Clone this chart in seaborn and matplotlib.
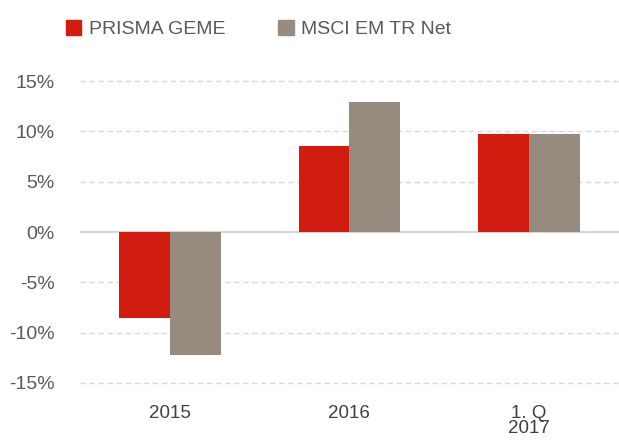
import numpy as np
import pandas as pd
import matplotlib
matplotlib.use("Agg")
import matplotlib.pyplot as plt
import seaborn as sns

# ---------------------------------------------------
# DATA
# ---------------------------------------------------

categories = ["2015", "2016", "1. Q\n2017"]
series_names = ["PRISMA GEME", "MSCI EM TR Net"]
prisma_values = [-8.5, 8.5, 9.7]
msci_values = [-12.2, 12.9, 9.7]
y_ticks = [-15, -10, -5, 0, 5, 10, 15]

colors = ["#d21c10", "#978b7f"]

df = pd.DataFrame({
    "Period": categories * 2,
    "Series": [series_names[0]] * 3 + [series_names[1]] * 3,
    "Return": prisma_values + msci_values,
})

# ---------------------------------------------------
# PLOT
# ---------------------------------------------------

sns.set_theme(style="white")
plt.rcParams["font.family"] = ["Liberation Sans", "DejaVu Sans"]

fig = plt.figure(figsize=(6.19, 4.42), dpi=100)
ax = fig.add_axes([0.129, 0.1335, 0.871, 0.6832])

sns.barplot(
    data=df,
    x="Period",
    y="Return",
    hue="Series",
    palette=colors,
    width=0.566,
    saturation=1,
    linewidth=0,
    ax=ax,
    legend=False,
)

ax.set_xlim(-0.5, 2.5)
ax.set_ylim(-15, 15)
ax.set_yticks(y_ticks)
ax.set_yticklabels([f"{t}%" for t in y_ticks])

for t in y_ticks:
    if t == 0:
        ax.axhline(0, color="#d9d9d9", lw=1.6, zorder=0.5)
    else:
        ax.axhline(t, color="#d9d9d9", lw=1.0, ls=(0, (4, 2.5)),
                   zorder=0.5, clip_on=False)

for s in ax.spines.values():
    s.set_visible(False)

ax.tick_params(axis="y", length=0, pad=18, labelsize=14, labelcolor="#595959")
ax.tick_params(axis="x", length=0, pad=16, labelsize=13.5, labelcolor="#404040")
for lbl in ax.get_xticklabels():
    lbl.set_linespacing(0.85)
ax.set_xlabel("")
ax.set_ylabel("")

# legend
handles = [plt.Rectangle((0, 0), 1, 1, color=c) for c in colors]
fig.legend(
    handles,
    series_names,
    loc="upper left",
    bbox_to_anchor=(0.078, 0.995),
    ncol=2,
    frameon=False,
    fontsize=14,
    handlelength=0.8,
    handleheight=0.8,
    handletextpad=0.4,
    columnspacing=2.7,
    labelcolor="#595959",
)

plt.savefig("out.png", dpi=100)
